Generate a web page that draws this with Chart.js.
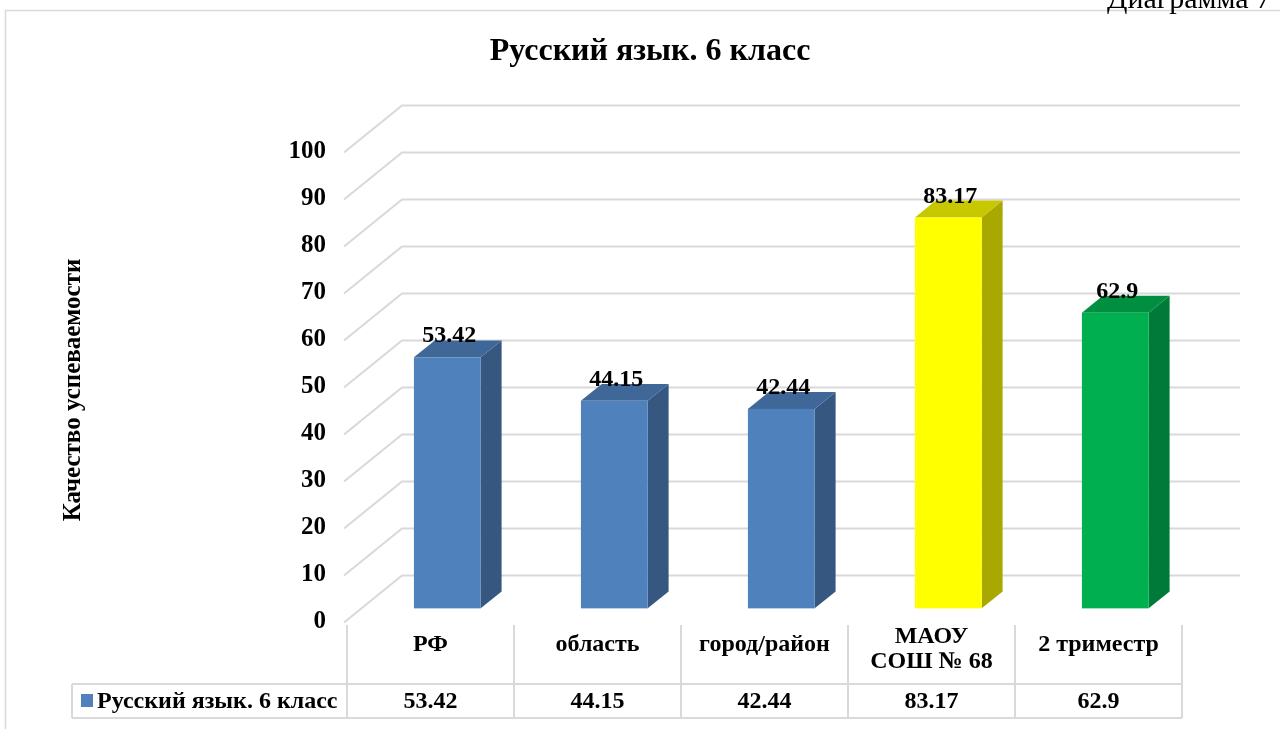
<!DOCTYPE html>
<html>
<head>
<meta charset="utf-8">
<script src="https://cdn.jsdelivr.net/npm/chart.js@4.4.1/dist/chart.umd.min.js"></script>
<style>
  html, body { margin: 0; padding: 0; background: #fff; overflow: hidden; }
  #wrap { width: 1280px; height: 729px; }
</style>
</head>
<body>
<div id="wrap"><canvas id="chart" width="1280" height="729"></canvas></div>
<script>
// data
const categories = ["РФ", "область", "город/район", ["МАОУ", "СОШ № 68"], "2 триместр"];
const values = [53.42, 44.15, 42.44, 83.17, 62.9];
const yTicks = [0, 10, 20, 30, 40, 50, 60, 70, 80, 90, 100];
const seriesName = "Русский язык. 6 класс";
const chartTitle = "Русский язык. 6 класс";
const yTitle = "Качество успеваемости";

// colours of the 3D faces
const frontColors = ["#4F81BD", "#4F81BD", "#4F81BD", "#FFFF00", "#00B050"];
const sideColors = ["#36577F", "#36577F", "#36577F", "#A8A800", "#007A38"];
const topColors = ["#3F6899", "#3F6899", "#3F6899", "#C8C800", "#008F40"];

const FONT = '"Liberation Serif", "Times New Roman", serif';
const GRID = "#D9D9D9";
const DX = 58, DY = -47;          // depth of the back wall
const BAR_FRONT = 0.29, BAR_BACK = 0.65;

const chart3d = {
    id: "chart3d",
    beforeDraw(chart) {
        const { ctx, chartArea: a, scales: { y } } = chart;
        ctx.save();
        ctx.fillStyle = "#fff";
        ctx.fillRect(0, 0, chart.width, chart.height);

        // outer frame
        ctx.strokeStyle = GRID;
        ctx.lineWidth = 1.5;
        ctx.strokeRect(5.5, 10.5, 1400, 900);

        // page caption, cut by the top edge
        ctx.fillStyle = "#000";
        ctx.font = "30px " + FONT;
        ctx.textBaseline = "alphabetic";
        ctx.textAlign = "left";
        ctx.fillText("Диаграмма 7", 1107, 8);

        // walls: diagonal on the side wall + horizontal on the back wall
        ctx.strokeStyle = GRID;
        ctx.lineWidth = 2;
        yTicks.forEach((v) => {
            const py = Math.round(y.getPixelForValue(v)) + 0.5;
            ctx.beginPath();
            ctx.moveTo(a.left - 3, py);
            ctx.lineTo(a.left - 3 + DX, py + DY);
            ctx.lineTo(a.right + DX, py + DY);
            ctx.stroke();
        });
        ctx.restore();
    },
    beforeDatasetsDraw() {
        return false; // bars are drawn in 3D below
    },
    afterDraw(chart) {
        const { ctx, chartArea: a, scales: { x, y } } = chart;
        const meta = chart.getDatasetMeta(0);
        const fx = DX * BAR_FRONT, fy = DY * BAR_FRONT;
        const bx = DX * BAR_BACK, by = DY * BAR_BACK;
        ctx.save();

        meta.data.forEach((el, i) => {
            const p = el.getProps(["x", "y", "base", "width"], true);
            const l = p.x - p.width / 2, r = p.x + p.width / 2;
            // side
            ctx.fillStyle = sideColors[i];
            ctx.beginPath();
            ctx.moveTo(r + fx, p.y + fy);
            ctx.lineTo(r + bx, p.y + by);
            ctx.lineTo(r + bx, p.base + by);
            ctx.lineTo(r + fx, p.base + fy);
            ctx.closePath();
            ctx.fill();
            // top
            ctx.fillStyle = topColors[i];
            ctx.beginPath();
            ctx.moveTo(l + fx, p.y + fy);
            ctx.lineTo(l + bx, p.y + by);
            ctx.lineTo(r + bx, p.y + by);
            ctx.lineTo(r + fx, p.y + fy);
            ctx.closePath();
            ctx.fill();
            // front
            ctx.fillStyle = frontColors[i];
            ctx.fillRect(l + fx, p.y + fy, p.width, p.base - p.y);

            // value label
            ctx.fillStyle = "#000";
            ctx.font = "bold 24px " + FONT;
            ctx.textAlign = "center";
            ctx.textBaseline = "alphabetic";
            ctx.fillText(String(values[i]), p.x + fx + 2, p.y + by + 2);
        });

        // y tick labels
        ctx.fillStyle = "#000";
        ctx.font = "bold 25px " + FONT;
        ctx.textAlign = "right";
        ctx.textBaseline = "middle";
        yTicks.forEach((v) => ctx.fillText(String(v), 326, y.getPixelForValue(v)));

        // title
        ctx.font = "bold 32px " + FONT;
        ctx.textAlign = "center";
        ctx.textBaseline = "alphabetic";
        ctx.fillText(chartTitle, 650, 60);

        // y axis title
        ctx.save();
        ctx.translate(74, 390);
        ctx.rotate(-Math.PI / 2);
        ctx.font = "bold 25px " + FONT;
        ctx.textBaseline = "middle";
        ctx.fillText(yTitle, 0, 0);
        ctx.restore();

        // data table
        const colW = (a.right - a.left) / categories.length;
        const rowTop = 684, rowBot = 718;
        ctx.strokeStyle = GRID;
        ctx.lineWidth = 2;
        ctx.beginPath();
        for (let i = 0; i <= categories.length; i++) {
            const lx = Math.round(a.left + i * colW);
            ctx.moveTo(lx, a.bottom + 3);
            ctx.lineTo(lx, rowBot);
        }
        ctx.moveTo(72, rowTop);
        ctx.lineTo(a.right, rowTop);
        ctx.moveTo(72, rowBot);
        ctx.lineTo(a.right, rowBot);
        ctx.moveTo(72, rowTop);
        ctx.lineTo(72, rowBot);
        ctx.stroke();

        ctx.fillStyle = "#000";
        ctx.font = "bold 24px " + FONT;
        ctx.textAlign = "center";
        ctx.textBaseline = "middle";
        categories.forEach((c, i) => {
            const cx = x.getPixelForValue(i);
            if (Array.isArray(c)) {
                ctx.fillText(c[0], cx, 637);
                ctx.fillText(c[1], cx, 662);
            } else {
                ctx.fillText(c, cx, 645);
            }
            ctx.fillText(String(values[i]), cx, (rowTop + rowBot) / 2 + 1);
        });

        // legend key in the table
        ctx.fillStyle = frontColors[0];
        ctx.fillRect(81, 694, 12, 13);
        ctx.fillStyle = "#000";
        ctx.textAlign = "left";
        ctx.fillText(seriesName, 97, (rowTop + rowBot) / 2 + 1);

        ctx.restore();
    },
};

new Chart(document.getElementById("chart"), {
    type: "bar",
    data: {
        labels: categories,
        datasets: [{
            label: seriesName,
            data: values,
            backgroundColor: frontColors,
            categoryPercentage: 1,
            barPercentage: 0.4,
        }],
    },
    options: {
        responsive: false,
        animation: false,
        devicePixelRatio: 1,
        layout: { padding: { left: 347, right: 98, top: 152, bottom: 107 } },
        scales: {
            x: { display: false },
            y: { display: false, min: 0, max: 100, ticks: { stepSize: 10 } },
        },
        plugins: {
            legend: { display: false },
            title: { display: false },
            tooltip: { enabled: false },
        },
    },
    plugins: [chart3d],
});
</script>
</body>
</html>
